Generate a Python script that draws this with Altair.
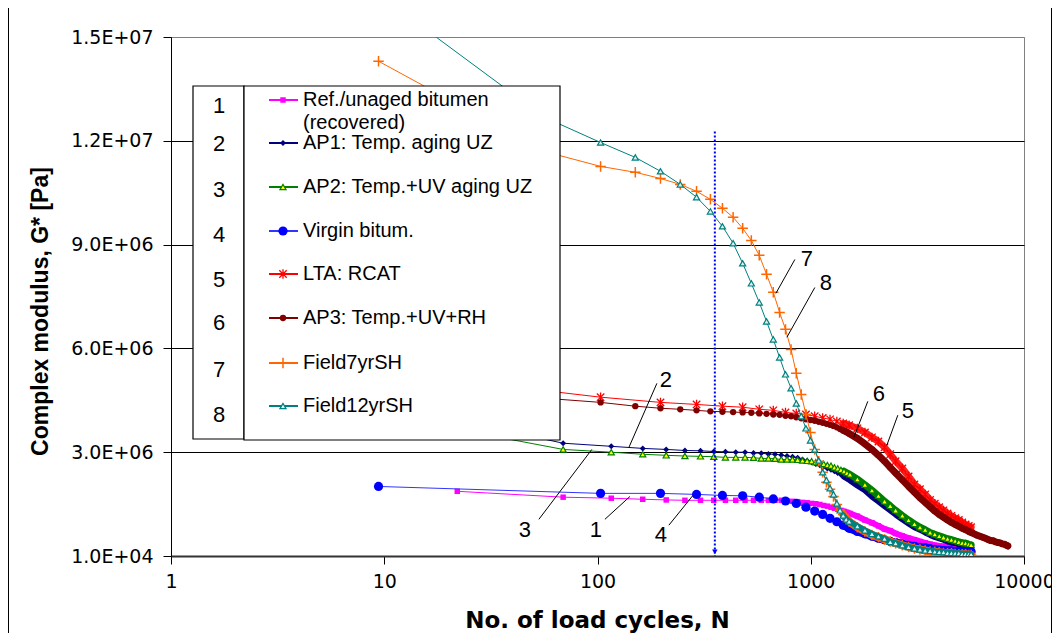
import altair as alt
import pandas as pd

# ---------------- data (G* in MPa) ----------------
N_A = [9.4, 56.4, 103.4, 150.4, 197.4, 244.4, 291.4, 338.4, 385.4, 432.4, 479.4, 526.4,
       573.4, 620.4, 667.4, 714.4, 761.4, 808.4, 855.4, 902.4, 949.4, 996.4, 1043.4, 1090.4,
       1137.4, 1184.4, 1231.4, 1278.4, 1325.4, 1372.4, 1419.4, 1466.4, 1513.4]
N_B = [9.4, 103.4, 197.4, 291.4, 385.4, 479.4, 573.4, 667.4, 761.4, 855.4, 949.4, 1043.4,
       1137.4, 1231.4, 1325.4, 1419.4, 1513.4]
N_C = [22, 69, 116, 163, 210, 257, 304, 351, 398, 445, 492, 539, 586, 633, 680, 727, 774,
       821, 868, 915, 962, 1009, 1056, 1103, 1150, 1197, 1244, 1291, 1338, 1385, 1432, 1479, 1526]
N_TAIL = [1654, 1795, 1936, 2077, 2218, 2359, 2500, 2688, 2876, 3064, 3252, 3440, 3628, 3816,
          4004, 4192, 4380, 4568, 4756, 4944, 5132, 5320, 5508, 5650]
N_TAIL_AP3 = [5838, 6026, 6214, 6402, 6590, 6778, 6966, 7154, 7342, 7530, 7718, 7906, 8094,
              8282, 8400]

G_REF = [1.88, 1.71, 1.68, 1.65, 1.63, 1.62, 1.62, 1.62, 1.62, 1.62, 1.62, 1.62, 1.62, 1.62,
         1.62, 1.62, 1.60, 1.59, 1.58, 1.56, 1.55, 1.53, 1.52, 1.50, 1.47, 1.45, 1.42, 1.39,
         1.36, 1.33, 1.30, 1.27, 1.24]
G_REF_T = [1.16, 1.05, 0.97, 0.88, 0.79, 0.74, 0.66, 0.59, 0.53, 0.48, 0.43, 0.39, 0.35, 0.32,
           0.30, 0.29, 0.27, 0.26, 0.25, 0.25, 0.23, 0.23, 0.23, 0.23]
G_AP1 = [3.93, 3.27, 3.18, 3.12, 3.09, 3.06, 3.05, 3.03, 3.02, 3.01, 3.01, 2.99, 2.98, 2.96,
         2.95, 2.93, 2.90, 2.88, 2.85, 2.80, 2.76, 2.72, 2.67, 2.63, 2.59, 2.54, 2.50, 2.46,
         2.41, 2.36, 2.30, 2.25, 2.20]
G_AP1_T = [2.05, 1.91, 1.73, 1.59, 1.45, 1.33, 1.21, 1.07, 0.95, 0.84, 0.77, 0.69, 0.62, 0.56,
           0.52, 0.48, 0.43, 0.40, 0.38, 0.35, 0.32, 0.30, 0.29, 0.27]
G_AP2 = [3.67, 3.09, 3.01, 2.95, 2.92, 2.90, 2.89, 2.88, 2.86, 2.86, 2.86, 2.85, 2.83, 2.83,
         2.82, 2.80, 2.80, 2.80, 2.79, 2.77, 2.76, 2.75, 2.72, 2.70, 2.67, 2.64, 2.62, 2.57,
         2.54, 2.50, 2.46, 2.41, 2.37]
G_AP2_T = [2.23, 2.07, 1.91, 1.75, 1.59, 1.46, 1.33, 1.18, 1.05, 0.94, 0.84, 0.77, 0.69, 0.64,
           0.59, 0.55, 0.51, 0.48, 0.45, 0.42, 0.39, 0.38, 0.35, 0.33]
G_VIR = [2.02, 1.82, 1.82, 1.79, 1.76, 1.75, 1.71, 1.66, 1.60, 1.53, 1.42, 1.31, 1.21, 1.10,
         1.00, 0.90, 0.81]
G_VIR_T = [0.72, 0.65, 0.58, 0.52, 0.48, 0.43, 0.40, 0.36, 0.32, 0.29, 0.26, 0.25, 0.22, 0.20,
           0.19, 0.17, 0.16, 0.16, 0.14, 0.14, 0.14, 0.13, 0.13, 0.13]
G_LTA = [5.35, 4.60, 4.45, 4.39, 4.34, 4.31, 4.25, 4.22, 4.16, 4.13, 4.10, 4.05, 4.00, 3.96,
         3.90, 3.84, 3.79]
G_LTA_T = [3.70, 3.58, 3.44, 3.32, 3.15, 2.95, 2.75, 2.54, 2.31, 2.08, 1.94, 1.79, 1.63, 1.52,
           1.42, 1.33, 1.24, 1.17, 1.10, 1.05, 0.98, 0.92, 0.88, 0.84]
G_AP3 = [4.91, 4.57, 4.45, 4.34, 4.28, 4.25, 4.22, 4.19, 4.18, 4.17, 4.16, 4.15, 4.13, 4.12,
         4.10, 4.09, 4.06, 4.05, 4.02, 3.99, 3.96, 3.94, 3.92, 3.89, 3.86, 3.83, 3.80, 3.77,
         3.73, 3.68, 3.64, 3.60, 3.55]
G_AP3_T = [3.41, 3.25, 3.09, 2.92, 2.75, 2.57, 2.41, 2.21, 2.02, 1.85, 1.69, 1.56, 1.43, 1.31,
           1.21, 1.13, 1.05, 0.98, 0.92, 0.87, 0.81, 0.77, 0.72, 0.69]
G_AP3_T2 = [0.65, 0.61, 0.58, 0.55, 0.52, 0.49, 0.46, 0.45, 0.42, 0.40, 0.39, 0.36, 0.35,
            0.32, 0.30]
G_F7 = [14.31, 11.70, 11.27, 11.10, 10.92, 10.75, 10.55, 10.32, 10.06, 9.80, 9.48, 9.13, 8.70,
        8.15, 7.63, 7.05, 6.56, 5.98, 5.29, 4.68, 4.10, 3.58, 3.09, 2.75, 2.43, 2.14, 1.94,
        1.73, 1.50, 1.33, 1.21, 1.10, 1.01]
G_F7_T = [0.84, 0.72, 0.62, 0.55, 0.49, 0.43, 0.38, 0.32, 0.27, 0.23, 0.20, 0.17, 0.14, 0.13,
          0.12, 0.10, 0.09, 0.09, 0.07, 0.06, 0.06, 0.06, 0.04, 0.04]
G_F12 = [16.24, 12.69, 11.96, 11.53, 11.13, 10.75, 10.38, 9.97, 9.54, 9.05, 8.47, 7.89, 7.34,
         6.79, 6.27, 5.75, 5.26, 4.86, 4.42, 4.05, 3.70, 3.35, 3.09, 2.77, 2.43, 2.20, 1.97,
         1.79, 1.53, 1.33, 1.18, 1.07, 1.01]
G_F12_T = [0.87, 0.75, 0.65, 0.58, 0.51, 0.42, 0.38, 0.32, 0.27, 0.23, 0.20, 0.17, 0.16, 0.14,
           0.13, 0.12, 0.10, 0.10, 0.09, 0.09, 0.07, 0.07, 0.07, 0.06]

LEGEND_LABELS = ["Ref./unaged bitumen", "AP1: Temp. aging UZ", "AP2: Temp.+UV aging UZ",
                 "Virgin bitum.", "LTA: RCAT", "AP3: Temp.+UV+RH", "Field7yrSH", "Field12yrSH"]
LEGEND_NUMS = ["1", "2", "3", "4", "5", "6", "7", "8"]

ANN_LABELS = ["1", "2", "3", "4", "5", "6", "7", "8"]
ANN_N = [98.3, 209.3, 45.7, 198.3, 2852, 2086, 958.8, 1177]
ANN_G = [0.75, 5.09, 0.75, 0.61, 4.19, 4.68, 8.58, 7.89]
LEAD_N1 = [108.3, 189.9, 53.1, 216.1, 2561, 1852, 842.5, 1045]
LEAD_G1 = [1.07, 5.00, 1.07, 0.90, 4.08, 4.48, 8.58, 7.77]
LEAD_N2 = [141.9, 140.4, 94.1, 280.2, 2274, 1593, 686.0, 772.6]
LEAD_G2 = [1.73, 3.15, 3.09, 1.76, 3.21, 3.44, 7.60, 6.33]

MARK_N = [355]
MARK_G_TOP = [12.28]
MARK_G_BOT = [0.01]
ARROW_G = [0.13]

Y_TICKS = [1e4, 3.01e6, 6.01e6, 9.01e6, 1.201e7, 1.501e7]
X_TICKS = [1, 10, 100, 1000, 10000]

FONT = "Liberation Sans"
WIDE = "DejaVu Sans"

# ---------------- styles ----------------
PLUS = "M-1,0L1,0M0,-1L0,1"
STAR = "M-1,-1L1,1M-1,1L1,-1M0,-1.25L0,1.25"
STYLES = [
    dict(line="#FF00FF", band="#FF00FF", bw=6,
         pt=dict(shape="square", size=30, filled=True, color="#FF00FF")),
    dict(line="#000080", band="#000080", bw=6,
         pt=dict(shape="diamond", size=36, filled=True, color="#000080")),
    dict(line="#008000", band="#008000", bw=7,
         pt=dict(shape="triangle-up", size=38, filled=True, fill="#FFFF00",
                 stroke="#008000", strokeWidth=1.2)),
    dict(line="#3333FF", band="#0000FF", bw=8,
         pt=dict(shape="circle", size=85, filled=True, color="#0000FF")),
    dict(line="#FF0000", band="#FF2020", bw=7,
         pt=dict(shape=STAR, size=55, filled=False, stroke="#FF0000", strokeWidth=1.3)),
    dict(line="#800000", band="#800000", bw=7,
         pt=dict(shape="circle", size=40, filled=True, color="#800000")),
    dict(line="#FF6600", band="#FF6600", bw=8,
         pt=dict(shape=PLUS, size=110, filled=False, stroke="#FF6600", strokeWidth=1.5)),
    dict(line="#008080", band="#008080", bw=6,
         pt=dict(shape="triangle-up", size=38, filled=True, fill="#DDEEEE",
                 stroke="#008080", strokeWidth=1.2)),
]

SERIES = [
    (N_C + N_TAIL, G_REF + G_REF_T),
    (N_C + N_TAIL, G_AP1 + G_AP1_T),
    (N_C + N_TAIL, G_AP2 + G_AP2_T),
    (N_B + N_TAIL, G_VIR + G_VIR_T),
    (N_B + N_TAIL, G_LTA + G_LTA_T),
    (N_A + N_TAIL + N_TAIL_AP3, G_AP3 + G_AP3_T + G_AP3_T2),
    (N_A + N_TAIL, G_F7 + G_F7_T),
    (N_A + N_TAIL, G_F12 + G_F12_T),
]

# ---------------- scales / axes ----------------
x_axis = alt.Axis(values=X_TICKS, format="d", grid=False, tickSize=8, tickColor="black",
                  domainColor="#333333", domainWidth=2, labelFont=WIDE, labelFontSize=19,
                  labelPadding=8, labelFlush=False, labelOverlap=False, labelColor="black",
                  title="No. of load cycles, N", titleFont=WIDE, titleFontSize=23,
                  titleFontWeight="bold", titleColor="black", titleX=426, titleY=64,
                  titleBaseline="middle")
y_axis = alt.Axis(values=Y_TICKS,
                  labelExpr="replace(upper(format(datum.value, '.1e')), 'E+', 'E+0')",
                  grid=True,
                  gridColor=alt.condition("datum.value > 14000000", alt.value("#808080"),
                                          alt.value("black")),
                  gridWidth=1, tickSize=8, tickColor="black", domainColor="black",
                  labelFont=WIDE, labelFontSize=19, labelPadding=10, labelFlush=False,
                  labelOverlap=False, labelColor="black",
                  title="Complex modulus, G* [Pa]", titleFont=FONT, titleFontSize=23,
                  titleFontWeight="bold", titleColor="black", titleX=-131, titleY=274,
                  titleAlign="center", titleBaseline="middle", titleAngle=270)

xs = alt.Scale(type="log", domain=[1, 10000], nice=False)
ys = alt.Scale(domain=[1e4, 1.501e7], nice=False, zero=False)
X = alt.X("N:Q", scale=xs, axis=x_axis)
Y = alt.Y("G:Q", scale=ys, axis=y_axis)

layers = []
for (ns, gs), st in zip(SERIES, STYLES):
    df = pd.DataFrame({"N": ns, "G": [g * 1e6 for g in gs]})
    base = alt.Chart(df)
    layers.append(base.mark_line(color=st["line"], strokeWidth=1, clip=True).encode(x=X, y=Y))
    # densely sampled tail: overlapping markers form a solid band
    layers.append(base.transform_filter("datum.N >= 1400")
                  .mark_line(color=st["band"], strokeWidth=st["bw"], strokeCap="round",
                             strokeJoin="round", clip=True)
                  .encode(x=X, y=Y))
    layers.append(base.mark_point(clip=True, opacity=1, **st["pt"]).encode(x=X, y=Y))

# vertical dotted marker with arrow
mk = pd.DataFrame({"N": MARK_N, "G": [g * 1e6 for g in MARK_G_TOP],
                   "G2": [g * 1e6 for g in MARK_G_BOT]})
layers.append(alt.Chart(mk).mark_rule(color="#0000FF", strokeWidth=2, strokeDash=[2, 2])
              .encode(x=X, y=Y, y2="G2:Q"))
ar = pd.DataFrame({"N": MARK_N, "G": [g * 1e6 for g in ARROW_G]})
layers.append(alt.Chart(ar).mark_point(shape="triangle-down", filled=True, color="#0000FF",
                                       size=30, opacity=1).encode(x=X, y=Y))

# annotation numbers with leader lines
ld = pd.DataFrame({"N": LEAD_N1, "G": [g * 1e6 for g in LEAD_G1],
                   "N2": LEAD_N2, "G2": [g * 1e6 for g in LEAD_G2]})
layers.append(alt.Chart(ld).mark_rule(color="black", strokeWidth=1)
              .encode(x=X, y=Y, x2="N2:Q", y2="G2:Q"))
an = pd.DataFrame({"N": ANN_N, "G": [g * 1e6 for g in ANN_G], "t": ANN_LABELS})
layers.append(alt.Chart(an).mark_text(font=FONT, fontSize=22, color="black", align="center",
                                      baseline="middle").encode(x=X, y=Y, text="t:N"))

# legend (two boxes)
one = pd.DataFrame({"k": [0]})
layers.append(alt.Chart(one).mark_rect(fill="white", stroke="black", strokeWidth=1.2)
              .encode(x=alt.value(22), x2=alt.value(73), y=alt.value(49), y2=alt.value(402)))
layers.append(alt.Chart(one).mark_rect(fill="white", stroke="black", strokeWidth=1.2)
              .encode(x=alt.value(73), x2=alt.value(389), y=alt.value(49), y2=alt.value(403)))
num_y = [69, 107, 153, 198, 243, 286, 333, 378]
row_y = [63, 106, 150, 194, 237, 281, 326, 369]
for i, st in enumerate(STYLES):
    layers.append(alt.Chart(one).mark_text(font=FONT, fontSize=22, color="black",
                                           align="center", baseline="middle")
                  .encode(x=alt.value(48), y=alt.value(num_y[i]), text=alt.value(LEGEND_NUMS[i])))
    layers.append(alt.Chart(one).mark_rule(color=st["line"], strokeWidth=2)
                  .encode(x=alt.value(98), x2=alt.value(127), y=alt.value(row_y[i])))
    layers.append(alt.Chart(one).mark_point(opacity=1, **st["pt"])
                  .encode(x=alt.value(112), y=alt.value(row_y[i])))
    layers.append(alt.Chart(one).mark_text(font=FONT, fontSize=20, color="black",
                                           align="left", baseline="middle")
                  .encode(x=alt.value(132), y=alt.value(row_y[i]),
                          text=alt.value(LEGEND_LABELS[i])))
layers.append(alt.Chart(one).mark_text(font=FONT, fontSize=20, color="black", align="left",
                                       baseline="middle")
              .encode(x=alt.value(132), y=alt.value(86), text=alt.value("(recovered)")))

# outer chart frame (left / right edges)
layers.append(alt.Chart(one).mark_rule(color="black", strokeWidth=1)
              .encode(x=alt.value(-162.5), y=alt.value(-29), y2=alt.value(596)))
layers.append(alt.Chart(one).mark_rule(color="black", strokeWidth=1)
              .encode(x=alt.value(880.5), y=alt.value(-29), y2=alt.value(596)))

chart = (alt.layer(*layers)
         .properties(width=853, height=519, background="white",
                     autosize=alt.AutoSizeParams(type="none"),
                     padding={"left": 163, "top": 29, "right": 28, "bottom": 77})
         .configure(font=FONT)
         .configure_view(stroke="#808080", strokeWidth=1))

chart.save("out.html", embed_options={"renderer": "svg", "actions": False})
